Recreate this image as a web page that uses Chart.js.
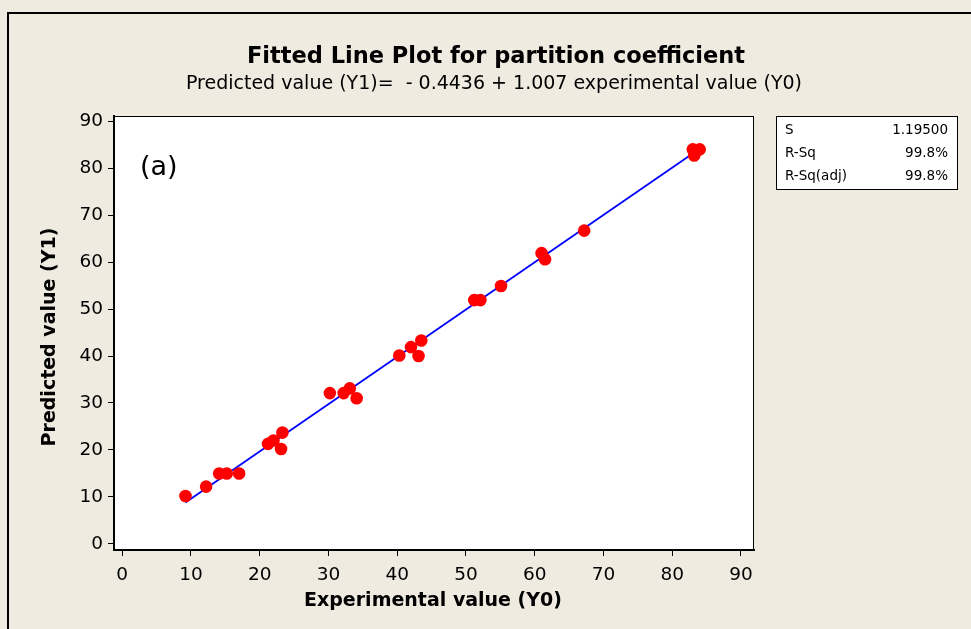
<!DOCTYPE html>
<html>
<head>
<meta charset="utf-8">
<script src="https://cdn.jsdelivr.net/npm/chart.js@4.4.1/dist/chart.umd.min.js"></script>
<style>
  html, body { margin: 0; padding: 0; background: #efebe1; }
  canvas { display: block; }
</style>
</head>
<body>
<canvas id="fitChart" width="971" height="629"></canvas>
<script>
// experimental (Y0) vs predicted (Y1) values
const experimental = [9.2, 12.2, 14.1, 15.2, 17.0, 21.2, 22.0, 23.1, 23.3, 30.2, 32.2, 33.1, 34.1,
  40.3, 42.0, 43.1, 43.5, 51.2, 52.1, 55.1, 61.0, 61.5, 67.2, 83.0, 84.0, 83.5, 83.2];
const predicted = [10.2, 12.2, 15.0, 15.0, 15.0, 21.3, 22.0, 20.2, 23.7, 32.1, 32.1, 33.1, 31.0,
  40.1, 41.9, 40.0, 43.3, 51.9, 51.9, 54.9, 61.9, 60.6, 66.7, 84.0, 84.0, 83.6, 82.7];

// fitted line: Y1 = -0.4436 + 1.007 * Y0
const intercept = -0.4436;
const slope = 1.007;
const fitRange = [9.2, 84.0];

const axisTicks = [0, 10, 20, 30, 40, 50, 60, 70, 80, 90];

const statLabels = ["S", "R-Sq", "R-Sq(adj)"];
const statValues = ["1.19500", "99.8%", "99.8%"];

const points = experimental.map((x, i) => ({ x: x, y: predicted[i] }));
const fitLine = fitRange.map(x => ({ x: x, y: intercept + slope * x }));

const FONT = "'DejaVu Sans', Tahoma, Verdana, sans-serif";

// background, frame and all the annotation text
const decor = {
  id: "decor",
  beforeDraw(chart) {
    const ctx = chart.ctx;
    const a = chart.chartArea;
    ctx.save();
    ctx.fillStyle = "#efebe1";
    ctx.fillRect(0, 0, chart.width, chart.height);
    // outer frame
    ctx.strokeStyle = "#000";
    ctx.lineWidth = 2;
    ctx.beginPath();
    ctx.moveTo(8, chart.height + 5);
    ctx.lineTo(8, 13);
    ctx.lineTo(chart.width + 5, 13);
    ctx.stroke();
    // plot area
    ctx.fillStyle = "#fff";
    ctx.fillRect(a.left, a.top, a.right - a.left, a.bottom - a.top);
    ctx.restore();
  },
  afterDraw(chart) {
    const ctx = chart.ctx;
    const a = chart.chartArea;
    ctx.save();
    ctx.strokeStyle = "#000";
    ctx.lineWidth = 1;
    ctx.strokeRect(a.left + 0.5, a.top + 0.5, a.right - a.left - 1, a.bottom - a.top - 1);

    ctx.fillStyle = "#000";
    ctx.textAlign = "center";
    ctx.textBaseline = "middle";
    ctx.font = "bold 22.5px " + FONT;
    ctx.fillText("Fitted Line Plot for partition coefficient", 496, 57);
    ctx.font = "19px " + FONT;
    ctx.fillText("Predicted value (Y1)=  - 0.4436 + 1.007 experimental value (Y0)", 494, 84);

    ctx.font = "bold 19px " + FONT;
    ctx.fillText("Experimental value (Y0)", 433, 601);
    ctx.save();
    ctx.translate(50, 337);
    ctx.rotate(-Math.PI / 2);
    ctx.fillText("Predicted value (Y1)", 0, 0);
    ctx.restore();

    ctx.textAlign = "left";
    ctx.font = "27px " + FONT;
    ctx.fillText("(a)", 140, 168);

    // stats box
    ctx.fillStyle = "#fff";
    ctx.fillRect(776, 116, 182, 74);
    ctx.strokeRect(776.5, 116.5, 181, 73);
    ctx.fillStyle = "#000";
    ctx.font = "13.5px " + FONT;
    statLabels.forEach((s, i) => {
      const y = 130 + i * 23;
      ctx.textAlign = "left";
      ctx.fillText(s, 785, y);
      ctx.textAlign = "right";
      ctx.fillText(statValues[i], 948, y);
    });
    ctx.restore();
  }
};

const keepTicks = scale => {
  scale.ticks = axisTicks.map(v => ({ value: v }));
};

new Chart(document.getElementById("fitChart"), {
  type: "scatter",
  data: {
    datasets: [
      {
        type: "line",
        data: fitLine,
        borderColor: "#0000ff",
        borderWidth: 1.8,
        pointRadius: 0,
        fill: false,
        order: 2
      },
      {
        data: points,
        backgroundColor: "#ff0000",
        borderWidth: 0,
        pointRadius: 6.3,
        pointHoverRadius: 6.3,
        order: 1
      }
    ]
  },
  options: {
    responsive: false,
    animation: false,
    events: [],
    layout: { padding: { left: 0, top: 116, right: 217, bottom: 0 } },
    plugins: { legend: { display: false }, tooltip: { enabled: false } },
    scales: {
      x: {
        type: "linear",
        min: -1.2,
        max: 91.9,
        afterBuildTicks: keepTicks,
        afterFit(scale) { scale.height = 79; },
        grid: { drawOnChartArea: false, drawTicks: true, tickLength: 6, color: "#000" },
        border: { display: true, color: "#000", width: 2 },
        ticks: { color: "#000", font: { family: FONT, size: 18.5 }, padding: 8, maxRotation: 0 }
      },
      y: {
        type: "linear",
        min: -1.3,
        max: 91.1,
        afterBuildTicks: keepTicks,
        afterFit(scale) { scale.width = 114; },
        grid: { drawOnChartArea: false, drawTicks: true, tickLength: 6, color: "#000" },
        border: { display: true, color: "#000", width: 2 },
        ticks: { color: "#000", font: { family: FONT, size: 18.5 }, padding: 5 }
      }
    }
  },
  plugins: [decor]
});
</script>
</body>
</html>
